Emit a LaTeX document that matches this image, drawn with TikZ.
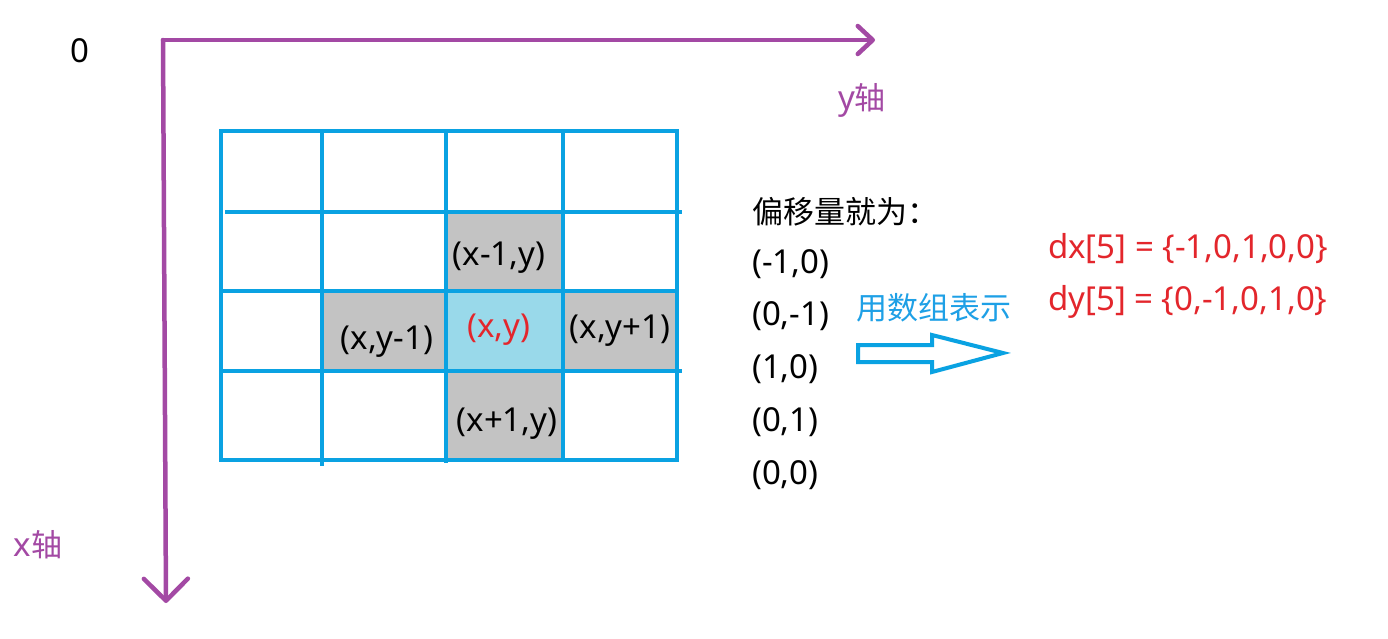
\documentclass[tikz,border=0pt]{standalone}
\usepackage{fontspec}
\setmainfont{Noto Sans}
\newfontfamily\cjk{Noto Sans CJK SC}
\newcommand{\cj}[1]{{\fontsize{31}{36}\cjk\selectfont #1}}
\usetikzlibrary{arrows.meta}
\definecolor{axispurple}{HTML}{A349A4}
\definecolor{gridblue}{HTML}{0AA2E2}
\definecolor{cellgray}{HTML}{C3C3C3}
\definecolor{cellcyan}{HTML}{99D9EA}
\definecolor{txtred}{HTML}{E3262C}
\definecolor{txtblue}{HTML}{1EA0E6}
\begin{document}
\begin{tikzpicture}[x=1pt,y=-1pt,
  lbl/.style={inner sep=0pt, font=\fontsize{33}{38}\selectfont},
  gridline/.style={draw=gridblue, line width=4pt},
  axis/.style={draw=axispurple, line width=4.5pt, line cap=round},
]
\useasboundingbox[fill=white] (0,0) rectangle (1388,638);
% cell fills
\fill[cellgray] (446,212) rectangle (563,291);
\fill[cellgray] (322,291) rectangle (446,371);
\fill[cellcyan] (446,291) rectangle (563,371);
\fill[cellgray] (563,291) rectangle (677,371);
\fill[cellgray] (446,371) rectangle (563,460);
% grid lines
\draw[gridline] (221,131) rectangle (677,460);
\draw[gridline] (225,212) -- (682,212);
\draw[gridline] (221,291) -- (677,291);
\draw[gridline] (223,371) -- (682,371);
\draw[gridline] (322,131) -- (322,466);
\draw[gridline] (446,131) -- (446,463);
\draw[gridline] (563,131) -- (563,462);
% axes
\coordinate (O) at (163,40);
\coordinate (Y) at (875,40);
\coordinate (X) at (166,603);
\draw[axis, -{Straight Barb[length=15pt,width=28pt,round]}] (O) -- (Y);
\draw[axis, -{Straight Barb[length=22pt,width=44pt,round]}] (O) -- (X);
% axis labels
\node[lbl] (zero) at (80,51) {0};
\node[lbl, text=axispurple] (ylab) at (862,100) {y\cj{轴}};
\node[lbl, text=axispurple] (xlab) at (38,545) {x\cj{轴}};
% cell labels
\node[lbl] (up) at (499,258) {(x-1,y)};
\node[lbl] (left) at (387,342) {(x,y-1)};
\node[lbl, text=txtred] (mid) at (499,330) {(x,y)};
\node[lbl] (right) at (620,331) {(x,y+1)};
\node[lbl] (down) at (507,424) {(x+1,y)};
% offsets
\node[lbl, anchor=west] (title) at (752,212) {\cj{偏移量就为：}};
\node[lbl, anchor=west] (o1) at (752,264) {(-1,0)};
\node[lbl, anchor=west] (o2) at (752,316) {(0,-1)};
\node[lbl, anchor=west] (o3) at (752,369) {(1,0)};
\node[lbl, anchor=west] (o4) at (752,422) {(0,1)};
\node[lbl, anchor=west] (o5) at (752,475) {(0,0)};
% block arrow
\node[lbl, anchor=west, text=txtblue] (arrtext) at (856,308) {\cj{用数组表示}};
\draw[draw=gridblue, line width=4pt, line join=miter]
  (858,345) -- (932,345) -- (932,335) -- (1003,353) -- (932,372) -- (932,362) -- (858,362) -- cycle;
% arrays
\node[lbl, anchor=west, text=txtred] (dx) at (1048,249) {dx[5] = \{-1,0,1,0,0\}};
\node[lbl, anchor=west, text=txtred] (dy) at (1048,302) {dy[5] = \{0,-1,0,1,0\}};
\end{tikzpicture}
\end{document}
